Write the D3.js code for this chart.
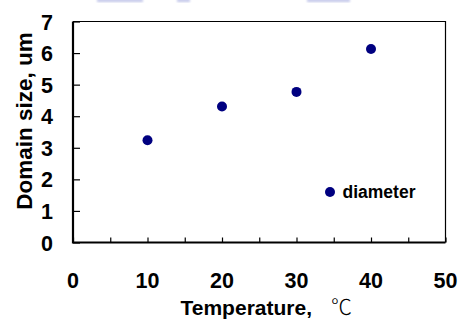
<!DOCTYPE html>
<html>
<head>
<meta charset="utf-8">
<script src="https://cdn.jsdelivr.net/npm/d3@7"></script>
<style>
  html, body { margin: 0; padding: 0; background: #fff; }
  svg { display: block; }
  text { font-family: "Liberation Sans", Arial, sans-serif; font-weight: bold; fill: #000; }
</style>
</head>
<body>
<svg id="chart" width="460" height="320"></svg>
<script>
// Domain size measured at each temperature
const temperatures = [10, 20, 30, 40];
const diameters = [3.24, 4.31, 4.77, 6.13];
const xTickValues = [0, 10, 20, 30, 40, 50];
const xMinorTicks = [0, 5, 10, 15, 20, 25, 30, 35, 40, 45, 50];
const yTickValues = [0, 1, 2, 3, 4, 5, 6, 7];
const seriesName = "diameter";

const svg = d3.select("#chart");
const plot = { left: 73, right: 445.5, top: 21.5, bottom: 242.5 };

const x = d3.scaleLinear().domain([0, 50]).range([plot.left, plot.right]);
const y = d3.scaleLinear().domain([0, 7]).range([plot.bottom, plot.top]);

// faint strip of colour left along the top edge
const defs = svg.append("defs");
defs.append("filter").attr("id", "soft")
  .append("feGaussianBlur").attr("stdDeviation", 0.8);
const strip = svg.append("g").attr("filter", "url(#soft)").attr("opacity", 0.5);
[[97, 46], [177, 13], [307, 43]].forEach(([sx, w]) => {
  strip.append("rect").attr("x", sx).attr("y", -1).attr("width", w).attr("height", 3)
    .attr("fill", "#8a93d6");
});

// plot frame: thin top and right edges
svg.append("path")
  .attr("d", `M${plot.left},${plot.top}H${plot.right}V${plot.bottom}`)
  .attr("fill", "none").attr("stroke", "#000").attr("stroke-width", 1.2);

// x axis with inward ticks every 5 units
const xAxis = svg.append("g").attr("transform", `translate(0,${plot.bottom})`)
  .call(d3.axisTop(x).tickValues(xMinorTicks).tickSize(5).tickFormat(""));
xAxis.select(".domain").remove();
xAxis.selectAll(".tick line").attr("stroke", "#000").attr("stroke-width", 1.2);

// y axis with inward ticks
const yAxis = svg.append("g").attr("transform", `translate(${plot.left},0)`)
  .call(d3.axisRight(y).tickValues(yTickValues).tickSize(7).tickFormat(""));
yAxis.select(".domain").remove();
yAxis.selectAll(".tick line").attr("stroke", "#000").attr("stroke-width", 1.2);

// heavier left and bottom spines
svg.append("path")
  .attr("d", `M${plot.left},${plot.top}V${plot.bottom}H${plot.right}`)
  .attr("fill", "none").attr("stroke", "#000").attr("stroke-width", 2.2);

// tick labels
svg.append("g").selectAll("text").data(xTickValues).join("text")
  .attr("x", d => x(d)).attr("y", 288)
  .attr("text-anchor", "middle").attr("font-size", 21.5)
  .text(d => d);

svg.append("g").selectAll("text").data(yTickValues).join("text")
  .attr("x", 53).attr("y", d => y(d) + 8)
  .attr("text-anchor", "end").attr("font-size", 21.5)
  .text(d => d);

// axis titles
svg.append("text")
  .attr("x", 180.5).attr("y", 315)
  .attr("font-size", 21)
  .text("Temperature,");
svg.append("text")
  .attr("x", 331).attr("y", 313.5)
  .style("font-family", '"Noto Sans CJK SC", sans-serif')
  .style("font-weight", "300")
  .attr("font-size", 21)
  .text("℃");

svg.append("text")
  .attr("transform", `translate(31.5,121) rotate(-90)`)
  .attr("text-anchor", "middle").attr("font-size", 22.5)
  .text("Domain size, um");

// data points
svg.append("g").selectAll("circle")
  .data(temperatures.map((t, i) => ({ t, v: diameters[i] })))
  .join("circle")
  .attr("cx", d => x(d.t)).attr("cy", d => y(d.v))
  .attr("r", 5).attr("fill", "#000080");

// legend
const legend = svg.append("g").attr("transform", "translate(330,192)");
legend.append("circle").attr("r", 5).attr("fill", "#000080");
legend.append("text").attr("x", 12.5).attr("y", 6).attr("font-size", 17.5).text(seriesName);
</script>
</body>
</html>
